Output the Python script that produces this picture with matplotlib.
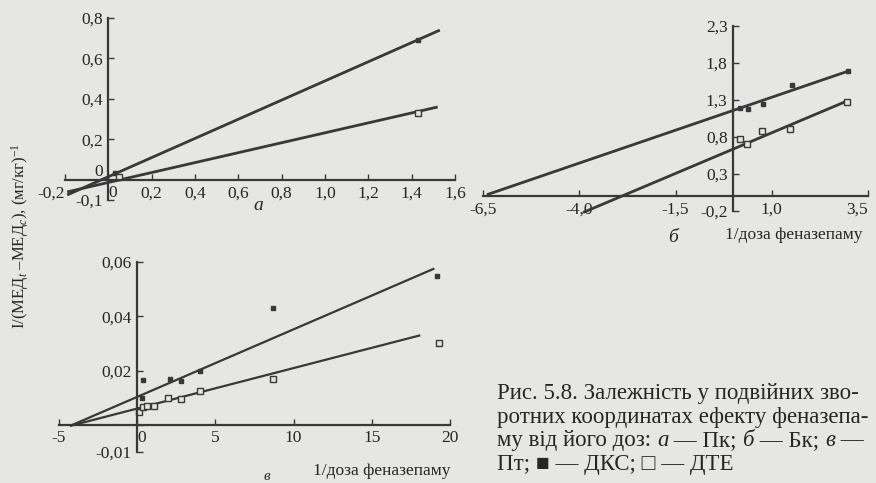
import matplotlib
matplotlib.use('Agg')
import matplotlib.pyplot as plt

plt.rcParams['font.family'] = ['Liberation Serif', 'DejaVu Serif', 'DejaVu Sans']
plt.rcParams['mathtext.fontset'] = 'custom'
plt.rcParams['mathtext.rm'] = 'Liberation Serif'
plt.rcParams['mathtext.it'] = 'Liberation Serif:italic'

BG = '#e6e6e4'
INK = '#383838'
TXT = '#262626'

W, H = 876, 483

# ---------------- data: panel а ----------------
a_dks_x = [0.03, 1.43]
a_dks_y = [0.035, 0.69]
a_dte_x = [0.05, 1.43]
a_dte_y = [0.015, 0.33]
a_dks_fit_x = [-0.19, 1.53]
a_dks_fit = [-0.075, 0.74]
a_dte_fit_x = [-0.19, 1.52]
a_dte_fit = [-0.06, 0.36]
a_xticks = [-0.2, 0, 0.2, 0.4, 0.6, 0.8, 1.0, 1.2, 1.4, 1.6]
a_xlabels = ['-0,2', '0', '0,2', '0,4', '0,6', '0,8', '1,0', '1,2', '1,4', '1,6']
a_yticks = [-0.1, 0, 0.2, 0.4, 0.6, 0.8]
a_ylabels = ['-0,1', '0', '0,2', '0,4', '0,6', '0,8']

# ---------------- data: panel б ----------------
b_dks_x = [0.18, 0.39, 0.76, 1.53, 2.97]
b_dks_y = [1.19, 1.18, 1.24, 1.50, 1.69]
b_dte_x = [0.18, 0.36, 0.75, 1.48, 2.96]
b_dte_y = [0.77, 0.70, 0.88, 0.91, 1.27]
b_dks_fit_x = [-6.4, 3.04]
b_dks_fit = [0.02, 1.70]
b_dte_fit_x = [-3.9, 2.97]
b_dte_fit = [-0.22, 1.29]
b_xticks = [-6.5, -4.0, -1.5, 1.0, 3.5]
b_xlabels = ['-6,5', '-4,0', '-1,5', '1,0', '3,5']
b_yticks = [-0.2, 0.3, 0.8, 1.3, 1.8, 2.3]
b_ylabels = ['-0,2', '0,3', '0,8', '1,3', '1,8', '2,3']

# ---------------- data: panel в ----------------
c_dks_x = [0.28, 0.38, 2.1, 2.77, 4.0, 8.7, 19.2]
c_dks_y = [0.0100, 0.0166, 0.0168, 0.0162, 0.0198, 0.0430, 0.0550]
c_dte_x = [0.1, 0.36, 0.64, 1.06, 2.0, 2.77, 4.04, 8.7, 19.3]
c_dte_y = [0.0048, 0.0066, 0.0068, 0.0068, 0.0098, 0.0096, 0.0126, 0.0168, 0.0300]
c_dks_fit_x = [-4.3, 19.0]
c_dks_fit = [-0.0004, 0.0576]
c_dte_fit_x = [-4.3, 18.1]
c_dte_fit = [-0.0004, 0.0330]
c_xticks = [-5, 0, 5, 10, 15, 20]
c_xlabels = ['-5', '0', '5', '10', '15', '20']
c_yticks = [-0.01, 0, 0.02, 0.04, 0.06]
c_ylabels = ['-0,01', '', '0,02', '0,04', '0,06']

caption_lines = [
    [('Рис. 5.8. Залежність у подвійних зво-', 'normal')],
    [('ротних координатах ефекту феназепа-', 'normal')],
    [('му від його доз: ', 'normal'), ('а', 'italic'), (' — Пк; ', 'normal'),
     ('б', 'italic'), (' — Бк; ', 'normal'), ('в', 'italic'), (' —', 'normal')],
    [('Пт; ■ — ДКС; □ — ДТЕ', 'normal')],
]

fig = plt.figure(figsize=(W / 100, H / 100), dpi=100, facecolor=BG)


def axes_px(x0, x1, ytop, ybot):
    return fig.add_axes([x0 / W, 1 - ybot / H, (x1 - x0) / W, (ybot - ytop) / H])


def style(ax, xlim, ylim, xt, xl, yt, yl):
    ax.set_facecolor('none')
    ax.set_xlim(*xlim)
    ax.set_ylim(*ylim)
    for s in ('top', 'right'):
        ax.spines[s].set_visible(False)
    for s in ('left', 'bottom'):
        ax.spines[s].set_position(('data', 0))
        ax.spines[s].set_color(INK)
        ax.spines[s].set_linewidth(1.6)
    ax.set_xticks(xt)
    ax.set_xticklabels(xl)
    ax.set_yticks(yt)
    ax.set_yticklabels(yl)
    ax.tick_params(direction='in', length=4, width=1.0, colors=INK,
                   labelcolor=TXT, labelsize=12.5, pad=4)


def draw(ax, fx1, fy1, fx2, fy2, px1, py1, px2, py2, lw=2.0):
    ax.plot(fx1, fy1, color=INK, lw=lw, clip_on=False, solid_capstyle='butt')
    ax.plot(fx2, fy2, color=INK, lw=lw, clip_on=False, solid_capstyle='butt')
    ax.plot(px1, py1, ls='none', marker='s', ms=3.5, color=INK, clip_on=False)
    ax.plot(px2, py2, ls='none', marker='s', ms=4.5, mfc=BG, mec=INK,
            mew=1.0, clip_on=False)


# panel а
axa = axes_px(65, 455, 18, 200)
style(axa, (-0.2, 1.6), (-0.1, 0.8), a_xticks, a_xlabels, a_yticks, a_ylabels)
draw(axa, a_dks_fit_x, a_dks_fit, a_dte_fit_x, a_dte_fit,
     a_dks_x, a_dks_y, a_dte_x, a_dte_y)
for lab in axa.get_xticklabels():
    if lab.get_text() == '0':
        lab.set_horizontalalignment('left')
    if lab.get_text() == '-0,2':
        lab.set_horizontalalignment('right')
for lab in axa.get_yticklabels():
    if lab.get_text() == '0':
        lab.set_verticalalignment('bottom')

# panel б
axb = axes_px(483, 868, 26, 211)
style(axb, (-6.5, 3.5), (-0.2, 2.3), b_xticks, b_xlabels, b_yticks, b_ylabels)
draw(axb, b_dks_fit_x, b_dks_fit, b_dte_fit_x, b_dte_fit,
     b_dks_x, b_dks_y, b_dte_x, b_dte_y)
for lab in axb.get_xticklabels():
    if lab.get_text() == '3,5':
        lab.set_horizontalalignment('right')

# panel в
axc = axes_px(59, 450, 262, 452)
style(axc, (-5, 20), (-0.01, 0.06), c_xticks, c_xlabels, c_yticks, c_ylabels)
draw(axc, c_dks_fit_x, c_dks_fit, c_dte_fit_x, c_dte_fit,
     c_dks_x, c_dks_y, c_dte_x, c_dte_y, lw=1.6)
for lab in axc.get_xticklabels():
    if lab.get_text() == '0':
        lab.set_horizontalalignment('left')


def ftext(x, y, s, **kw):
    kw.setdefault('color', TXT)
    return fig.text(x / W, 1 - y / H, s, **kw)


# axis / panel labels
ftext(20, 236, r'I/(МЕД$_t$ –МЕД$_c$), (мг/кг)$^{-1}$', rotation=90,
      ha='center', va='center', fontsize=12)
ftext(258, 206, 'а', style='italic', ha='center', va='center', fontsize=14)
ftext(673, 238, 'б', style='italic', ha='center', va='center', fontsize=14)
ftext(267, 476, 'в', style='italic', ha='center', va='center', fontsize=11)
ftext(794, 235, '1/доза феназепаму', ha='center', va='center', fontsize=12.5)
ftext(382, 471, '1/доза феназепаму', ha='center', va='center', fontsize=12.5)

# caption, built piece by piece so italic letters can be mixed in
CAP = 16.5
baselines = [399, 423, 446, 470]
for yb, pieces in zip(baselines, caption_lines):
    first, st = pieces[0]
    chain = ftext(497, yb, first, ha='left', va='baseline', fontsize=CAP, style=st)
    for s, st in pieces[1:]:
        chain = fig.axes[0].annotate(s, xy=(1, 0), xycoords=chain, ha='left',
                                     va='bottom', fontsize=CAP, style=st,
                                     color=TXT, annotation_clip=False)

fig.savefig('out.png', dpi=100, facecolor=BG)
